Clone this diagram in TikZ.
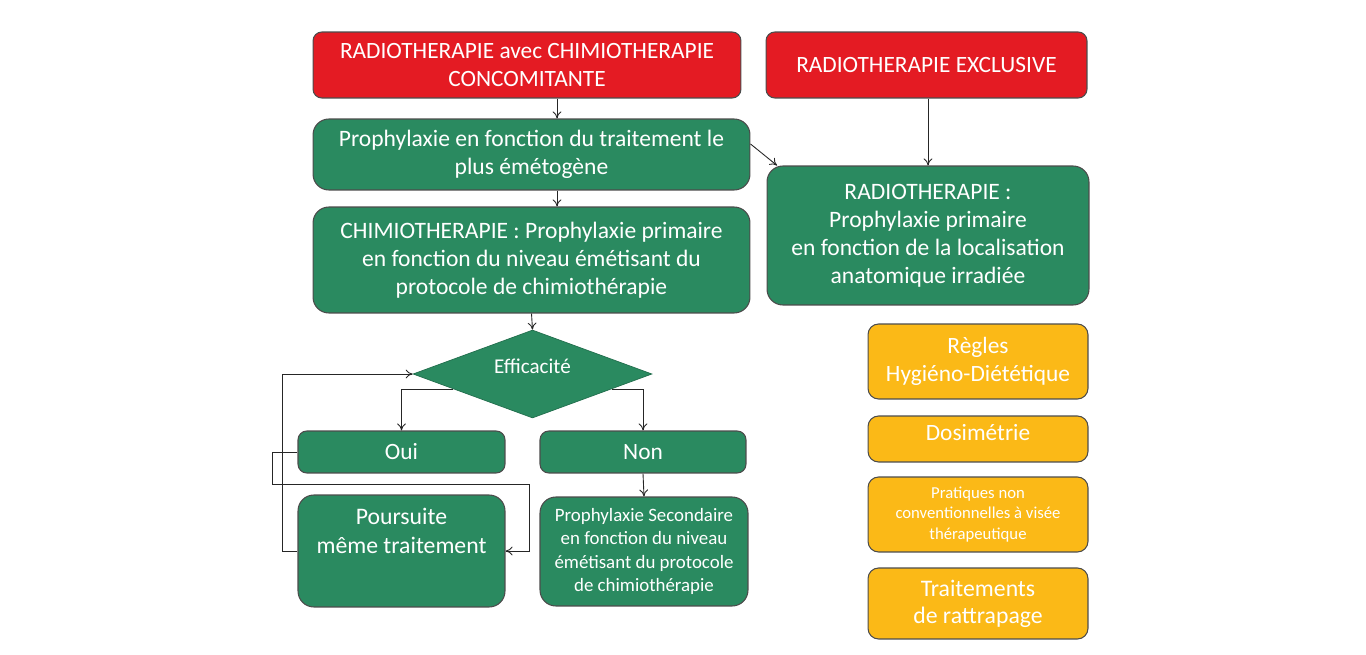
\documentclass[tikz,border=0pt]{standalone}
\usepackage{fontspec}
\setmainfont{Carlito}
\usetikzlibrary{shapes.geometric, arrows.meta, positioning, calc}
\definecolor{boxred}{RGB}{228, 27, 35}
\definecolor{boxgreen}{RGB}{42, 138, 96}
\definecolor{boxyellow}{RGB}{251, 185, 23}
\tikzset{
  basebox/.style={draw=black!70, line width=0.6pt, text=white, align=center, inner sep=2pt},
  redbox/.style={basebox, fill=boxred, rounded corners=5pt, font=\fontsize{13.3}{15.9}\selectfont},
  greenbox/.style={basebox, fill=boxgreen, rounded corners=9pt, font=\fontsize{13.4}{15.9}\selectfont},
  smallgreen/.style={basebox, fill=boxgreen, rounded corners=5pt, font=\fontsize{13.3}{15.9}\selectfont},
  yellowbox/.style={basebox, fill=boxyellow, rounded corners=6pt, font=\fontsize{13.3}{15.9}\selectfont},
  arr/.style={-{To[length=4pt, width=5pt]}, line width=0.5pt, draw=black!85},
}

\begin{document}
\begin{tikzpicture}[x=0.02cm, y=-0.02cm]
  \useasboundingbox (0,0) rectangle (1366,655);

  % top row
  \node[redbox, minimum width=8.56cm, minimum height=1.32cm] (rtcc) at (527,65)
    {RADIOTHERAPIE avec CHIMIOTHERAPIE\\CONCOMITANTE};
  \node[redbox, minimum width=6.42cm, minimum height=1.32cm] (rtex) at (926.5,65)
    {RADIOTHERAPIE EXCLUSIVE};

  % left column
  \node[greenbox, minimum width=8.74cm, minimum height=1.42cm] (proph) at (531.5,154.5)
    {Prophylaxie en fonction du traitement le\\plus émétogène};
  \node[greenbox, minimum width=8.74cm, minimum height=2.12cm] (chimio) at (531.5,260)
    {CHIMIOTHERAPIE : Prophylaxie primaire\\en fonction du niveau émétisant du\\protocole de chimiothérapie};
  \node[greenbox, minimum width=6.44cm, minimum height=2.78cm] (radio) at (928,235.5)
    {RADIOTHERAPIE :\\Prophylaxie primaire\\en fonction de la localisation\\anatomique irradiée};

  \node[diamond, fill=boxgreen, draw=boxgreen!80!black, inner sep=0pt, minimum width=4.78cm,
    minimum height=1.76cm] (effic) at (532.5,374) {};
  \node[text=white, font=\fontsize{12}{14}\selectfont] (efftxt) at (532.5,366) {Efficacité};

  \node[smallgreen, minimum width=4.14cm, minimum height=0.84cm] (oui) at (401.5,452) {Oui};
  \node[smallgreen, minimum width=4.12cm, minimum height=0.84cm] (non) at (643,452) {Non};

  \node[greenbox, minimum width=4.14cm, minimum height=2.24cm] (pours) at (401.5,551) {};
  \node[text=white, align=center, font=\fontsize{13.5}{16.5}\selectfont, anchor=north] (poutxt)
    at ($(pours.north)+(0,7)$) {Poursuite\\même traitement};
  \node[greenbox, minimum width=4.16cm, minimum height=2.18cm, font=\fontsize{10.75}{13.3}\selectfont] (psec) at (644,551.5)
    {Prophylaxie Secondaire\\en fonction du niveau\\émétisant du protocole\\de chimiothérapie};

  % right column
  \node[yellowbox, minimum width=4.4cm, minimum height=1.5cm] (regles) at (978,361.5)
    {Règles\\Hygiéno-Diététique};
  \node[yellowbox, minimum width=4.4cm, minimum height=0.92cm] (dosi) at (978,439) {};
  \node[text=white, font=\fontsize{13.3}{15.9}\selectfont] (dositxt) at (978,433) {Dosimétrie};
  \node[yellowbox, minimum width=4.4cm, minimum height=1.5cm, font=\fontsize{9.5}{11.9}\selectfont] (prat) at (978,514.5)
    {Pratiques non\\conventionnelles à visée\\thérapeutique};
  \node[yellowbox, minimum width=4.4cm, minimum height=1.42cm, font=\fontsize{13.5}{15.3}\selectfont] (ratt) at (978,603.5)
    {Traitements\\de rattrapage};

  % connectors
  \coordinate (ax) at (557,0);
  \coordinate (lp) at (529,484);
  \draw[arr] (rtcc.south -| ax) -- (proph.north -| ax);
  \draw[arr] (proph.south -| ax) -- (chimio.north -| ax);
  \draw[arr] ([yshift=6]proph.east) -- ([xshift=6]radio.north west);
  \draw[arr] (rtex.south -| radio.north) -- (radio.north);
  \draw[arr] (chimio.south) -- (effic.north);
  \draw[arr] ($(effic.west)!0.34!(effic.south)$) -| (oui.north);
  \draw[arr] ($(effic.east)!0.34!(effic.south)$) -| (non.north);
  \draw[arr] (non.south) -- (psec.north);
  \draw[arr] (pours.west) -- ++(-15,0) |- (effic.west);
  \draw[arr] (oui.west) -- ++(-25,0) |- (lp) |- (pours.east);
\end{tikzpicture}
\end{document}
